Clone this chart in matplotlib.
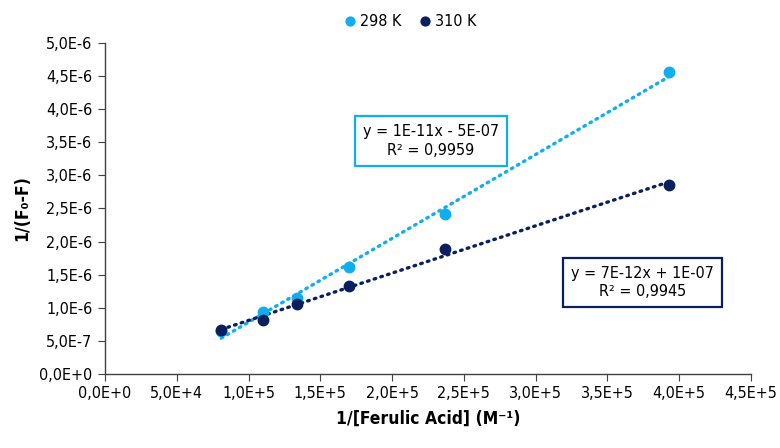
import numpy as np
import matplotlib
matplotlib.use("Agg")
import matplotlib.pyplot as plt
from matplotlib.ticker import FuncFormatter, MultipleLocator

# data
x_298 = [8.1e4, 1.10e5, 1.335e5, 1.70e5, 2.37e5, 3.93e5]
y_298 = [0.65e-6, 0.93e-6, 1.15e-6, 1.62e-6, 2.42e-6, 4.56e-6]
x_310 = [8.1e4, 1.10e5, 1.335e5, 1.70e5, 2.37e5, 3.93e5]
y_310 = [0.66e-6, 0.82e-6, 1.05e-6, 1.33e-6, 1.89e-6, 2.85e-6]
eq_298 = "y = 1E-11x - 5E-07\nR\u00b2 = 0,9959"
eq_310 = "y = 7E-12x + 1E-07\nR\u00b2 = 0,9945"

c_light = "#10AEEE"
c_dark = "#0A205E"
font = dict(family="DejaVu Sans", stretch="condensed")


def sci_comma(v, pos):
    if v == 0:
        return "0,0E+0"
    e = int(np.floor(np.log10(abs(v)) + 1e-9))
    m = v / 10 ** e
    return f"{m:.1f}".replace(".", ",") + f"E{e:+d}"


fig = plt.figure(figsize=(7.8, 4.48), dpi=100)
ax = fig.add_axes([0.1346, 0.1652, 0.828, 0.739])

for xs, ys, col, lab in [(x_298, y_298, c_light, "298 K"), (x_310, y_310, c_dark, "310 K")]:
    xs = np.array(xs)
    k, b = np.polyfit(xs, ys, 1)
    ax.plot([xs.min(), xs.max()], [k * xs.min() + b, k * xs.max() + b], color=col,
            lw=2.4, linestyle=(0, (0.5, 1.6)), dash_capstyle="round", zorder=2)
    ax.plot(xs, ys, "o", color=col, ms=7.5, label=lab, zorder=3)

ax.set_xlim(0, 4.5e5)
ax.set_ylim(0, 5.0e-6)
ax.xaxis.set_major_locator(MultipleLocator(0.5e5))
ax.yaxis.set_major_locator(MultipleLocator(0.5e-6))
ax.xaxis.set_major_formatter(FuncFormatter(sci_comma))
ax.yaxis.set_major_formatter(FuncFormatter(sci_comma))
for s in ["top", "right"]:
    ax.spines[s].set_visible(False)
for s in ["left", "bottom"]:
    ax.spines[s].set_color("#404040")
    ax.spines[s].set_linewidth(1.0)
ax.tick_params(length=5, color="#404040", labelsize=11.5, pad=4)
for t in ax.get_xticklabels() + ax.get_yticklabels():
    t.set_fontstretch("condensed")

ax.set_xlabel("1/[Ferulic Acid] (M\u207b\u00b9)", fontsize=12.5, fontweight="bold", labelpad=6, **font)
ax.set_ylabel("1/(F\u2080-F)", fontsize=12.5, fontweight="bold", labelpad=6, **font)

ax.text(2.27e5, 3.52e-6, eq_298, ha="center", va="center", fontsize=11.5, **font,
        linespacing=1.3, bbox=dict(boxstyle="square,pad=0.5", fc="white", ec=c_light, lw=1.6))
ax.text(3.745e5, 1.38e-6, eq_310, ha="center", va="center", fontsize=11.5, **font,
        linespacing=1.3, bbox=dict(boxstyle="square,pad=0.5", fc="white", ec=c_dark, lw=1.6))

leg = fig.legend(loc="upper center", bbox_to_anchor=(0.525, 1.0), ncol=2, frameon=False,
                 handletextpad=0.1, columnspacing=1.0, handlelength=1.0, markerscale=0.85,
                 prop=dict(size=11.5, **font))

fig.savefig("out.png", dpi=100)
